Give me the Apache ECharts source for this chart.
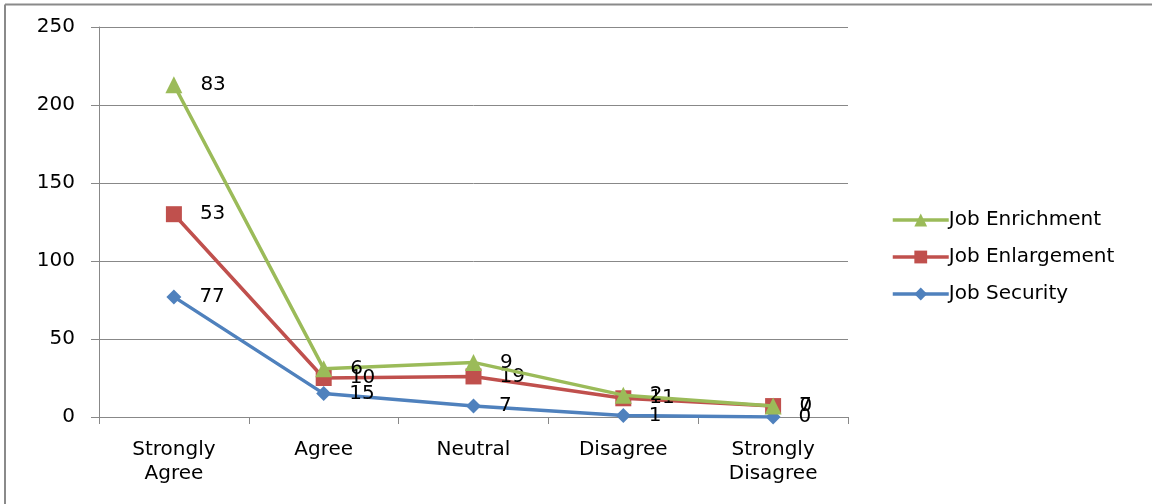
<!DOCTYPE html>
<html>
<head>
<meta charset="utf-8">
<script src="https://cdn.jsdelivr.net/npm/echarts@6/dist/echarts.min.js"></script>
<style>html,body{margin:0;padding:0;background:#fff}#c{width:1152px;height:504px}</style>
</head>
<body>
<div id="c"></div>
<script>
const categories = ['Strongly\nAgree', 'Agree', 'Neutral', 'Disagree', 'Strongly\nDisagree'];
const jobSecurity = [77, 15, 7, 1, 0];
const jobEnlargement = [53, 10, 19, 11, 7];
const jobEnrichment = [83, 6, 9, 2, 0];
const yTicks = [0, 50, 100, 150, 200, 250];

const font = '"DejaVu Sans", sans-serif';
const chart = echarts.init(document.getElementById('c'));
const labelCfg = { show: true, position: 'right', distance: 18, color: '#000', fontSize: 20, fontFamily: font };
chart.setOption({
  animation: false,
  graphic: [
    { type: 'line', shape: { x1: 5, y1: 4.5, x2: 1152, y2: 4.5 }, style: { stroke: '#8a8a8a', lineWidth: 2 } },
    { type: 'line', shape: { x1: 5, y1: 4.5, x2: 5, y2: 504 }, style: { stroke: '#8a8a8a', lineWidth: 2 } }
  ],
  grid: { left: 99, right: 304, top: 27, bottom: 87, containLabel: false },
  legend: {
    orient: 'vertical', left: 886, top: 205, itemGap: 17, itemWidth: 56, itemHeight: 16,
    data: ['Job Enrichment', 'Job Enlargement', 'Job Security'],
    lineStyle: { width: 3.5 },
    textStyle: { fontSize: 20, fontFamily: font, color: '#000', padding: [0, 0, 0, -5] }
  },
  xAxis: {
    type: 'category', data: categories, boundaryGap: true,
    axisLine: { lineStyle: { color: '#888', width: 1 } },
    axisTick: { show: true, length: 7, lineStyle: { color: '#888' } },
    axisLabel: { fontSize: 20, fontFamily: font, color: '#000', margin: 21, lineHeight: 24, interval: 0 }
  },
  yAxis: {
    type: 'value', min: yTicks[0], max: yTicks[yTicks.length - 1], interval: 50,
    axisLine: { show: true, lineStyle: { color: '#888', width: 1 } },
    axisTick: { show: true, length: 8, lineStyle: { color: '#888' } },
    splitLine: { lineStyle: { color: '#888', width: 1 } },
    axisLabel: { fontSize: 20, fontFamily: font, color: '#000', margin: 24 }
  },
  series: [
    { name: 'Job Security', type: 'line', stack: 'total', data: jobSecurity, color: '#4F81BD',
      symbol: 'diamond', symbolSize: 15, lineStyle: { width: 3.5 }, label: labelCfg, z: 3 },
    { name: 'Job Enlargement', type: 'line', stack: 'total', data: jobEnlargement, color: '#C0504D',
      symbol: 'rect', symbolSize: 16, lineStyle: { width: 3.5 }, label: labelCfg, z: 4 },
    { name: 'Job Enrichment', type: 'line', stack: 'total', data: jobEnrichment, color: '#9BBB59',
      symbol: 'triangle', symbolSize: 17, lineStyle: { width: 3.5 }, label: labelCfg, z: 5 }
  ]
});
</script>
</body>
</html>
